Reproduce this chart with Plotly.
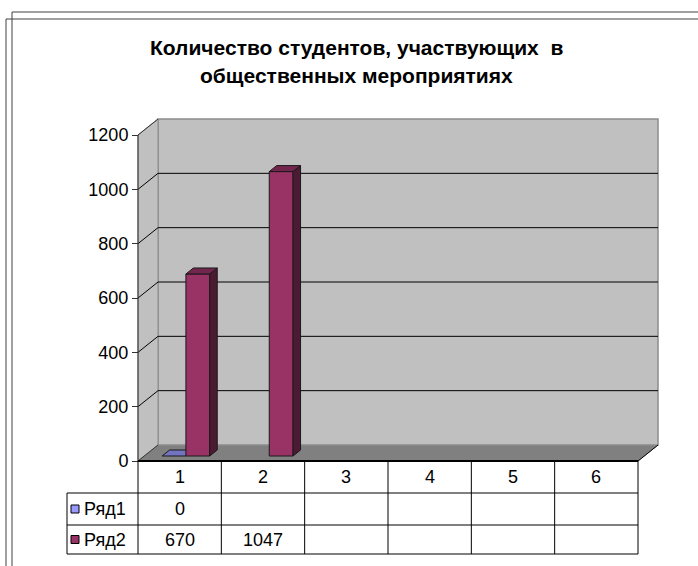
import plotly.graph_objects as go

# ---------------- data ----------------
categories = [1, 2, 3, 4, 5, 6]
series_names = ["Ряд1", "Ряд2"]
row1_values = [0, None, None, None, None, None]
row2_values = [670, 1047, None, None, None, None]
y_ticks = [0, 200, 400, 600, 800, 1000, 1200]
title_lines = ["Количество студентов, участвующих\u00a0 в", "общественных мероприятиях"]

series_values = [row1_values, row2_values]

# ---------------- styling / geometry ----------------
W, H = 698, 566
FONT = "Liberation Sans, Arial, sans-serif"
front_colors = ["#9999FF", "#993366"]
side_colors = ["#4D4D80", "#4D1A33"]
top_colors = ["#7373BF", "#73264D"]

PX_LEFT, PX_RIGHT = 138, 638
PX_ZERO, PX_TOP = 461, 135
DEPTH_X, DEPTH_Y = 20, 16
F1, F2 = 5 / 16, 11 / 16          # bar depth fraction (front / back)
GAP = 1.5                          # gap width relative to bar width

col_w = (PX_RIGHT - PX_LEFT) / len(categories)
ky = (PX_ZERO - PX_TOP) / y_ticks[-1]
x_range = [0.5 - PX_LEFT / col_w, 0.5 + (W - PX_LEFT) / col_w]
y_range = [-(H - PX_ZERO) / ky, PX_ZERO / ky]
ddx = DEPTH_X / col_w
ddy = DEPTH_Y / ky
ymax = y_ticks[-1]
x_lo, x_hi = categories[0] - 0.5, categories[-1] + 0.5
bw = 1 / (len(series_names) + GAP)


def py(px):
    return 1 - px / H


def px_(px):
    return px / W


def path(pts):
    return "M " + " L ".join(f"{x},{y}" for x, y in pts) + " Z"


shapes = []
# floor
shapes.append(dict(type="path", xref="x", yref="y", layer="below",
                   path=path([(x_lo, 0), (x_hi, 0), (x_hi + ddx, ddy), (x_lo + ddx, ddy)]),
                   fillcolor="#808080", line=dict(color="#808080", width=1)))
# back wall
shapes.append(dict(type="rect", xref="x", yref="y", layer="below",
                   x0=x_lo + ddx, x1=x_hi + ddx, y0=ddy, y1=ymax + ddy,
                   fillcolor="#C0C0C0", line=dict(color="#8C8C8C", width=1.5)))
# left wall
shapes.append(dict(type="path", xref="x", yref="y", layer="below",
                   path=path([(x_lo, 0), (x_lo, ymax), (x_lo + ddx, ymax + ddy), (x_lo + ddx, ddy)]),
                   fillcolor="#C0C0C0", line=dict(color="#8C8C8C", width=1)))
# gridlines on walls
for v in y_ticks:
    if 0 < v < ymax:
        shapes.append(dict(type="line", xref="x", yref="y", layer="below",
                           x0=x_lo + ddx, x1=x_hi + ddx, y0=v + ddy, y1=v + ddy,
                           line=dict(color="#000000", width=1)))
    shapes.append(dict(type="line", xref="x", yref="y", layer="below",
                       x0=x_lo, x1=x_lo + ddx, y0=v, y1=v + ddy,
                       line=dict(color="#333333" if v in (0, ymax) else "#000000", width=1)))
# right floor edge
shapes.append(dict(type="line", xref="x", yref="y", layer="below",
                   x0=x_hi, x1=x_hi + ddx, y0=0, y1=ddy, line=dict(color="#000000", width=1)))
# value axis line
shapes.append(dict(type="line", xref="x", yref="y", layer="above",
                   x0=x_lo, x1=x_lo, y0=0, y1=ymax, line=dict(color="#333333", width=1)))

# ---------------- table ----------------
row_px = [PX_ZERO, 493, 525, 554]
LEG_LEFT = 67
# thick top border (floor front edge)
shapes.append(dict(type="line", xref="x", yref="paper", x0=x_lo, x1=x_hi,
                   y0=py(row_px[0]), y1=py(row_px[0]), line=dict(color="#000000", width=2)))
for r in row_px[1:]:
    shapes.append(dict(type="line", xref="paper", yref="paper", x0=px_(LEG_LEFT), x1=px_(PX_RIGHT),
                       y0=py(r), y1=py(r), line=dict(color="#000000", width=1)))
for i, c in enumerate(categories):
    shapes.append(dict(type="line", xref="x", yref="paper", x0=c - 0.5, x1=c - 0.5,
                       y0=py(row_px[0]), y1=py(row_px[-1]), line=dict(color="#000000", width=1)))
shapes.append(dict(type="line", xref="x", yref="paper", x0=x_hi, x1=x_hi,
                   y0=py(row_px[0]), y1=py(row_px[-1]), line=dict(color="#000000", width=1)))
shapes.append(dict(type="line", xref="paper", yref="paper", x0=px_(LEG_LEFT), x1=px_(LEG_LEFT),
                   y0=py(row_px[1]), y1=py(row_px[-1]), line=dict(color="#000000", width=1)))

annotations = []
tfont = dict(family=FONT, size=18, color="#000000")
for c in categories:
    annotations.append(dict(x=c, y=py((row_px[0] + row_px[1]) / 2), xref="x", yref="paper",
                            text=str(c), showarrow=False, font=tfont, xanchor="center", yanchor="middle"))
for s, (name, vals) in enumerate(zip(series_names, series_values)):
    yc = py((row_px[s + 1] + row_px[s + 2]) / 2)
    # legend square
    shapes.append(dict(type="rect", xref="paper", yref="paper",
                       x0=px_(71), x1=px_(79), y0=yc - 4 / H, y1=yc + 4 / H,
                       fillcolor=front_colors[s], line=dict(color="#000000", width=1)))
    annotations.append(dict(x=px_(82), y=yc, xref="paper", yref="paper", text=name,
                            showarrow=False, font=tfont, xanchor="left", yanchor="middle"))
    for c, v in zip(categories, vals):
        if v is not None:
            annotations.append(dict(x=c, y=yc, xref="x", yref="paper", text=str(v),
                                    showarrow=False, font=tfont, xanchor="center", yanchor="middle"))

# title
for k, line in enumerate(title_lines):
    annotations.append(dict(x=px_(356), y=py(47 + 28 * k), xref="paper", yref="paper", text=f"<b>{line}</b>",
                            showarrow=False, font=dict(family=FONT, size=21, color="#000000"),
                            xanchor="center", yanchor="middle"))

# outer frames
for (fx, fy) in [(12, 12), (6, 19)]:
    shapes.append(dict(type="line", xref="paper", yref="paper", x0=px_(fx), x1=1, y0=py(fy), y1=py(fy),
                       line=dict(color="#404040", width=1)))
    shapes.append(dict(type="line", xref="paper", yref="paper", x0=px_(fx), x1=px_(fx), y0=py(fy), y1=0,
                       line=dict(color="#404040", width=1)))

# ---------------- bars (3D faces) ----------------
fig = go.Figure()
for c_idx, c in enumerate(categories):
    for s in range(len(series_names)):
        v = series_values[s][c_idx]
        if v is None:
            continue
        x0 = c - bw * len(series_names) / 2 + s * bw
        x1 = x0 + bw
        fx, fy = F1 * ddx, F1 * ddy
        bx, by = F2 * ddx, F2 * ddy
        faces = []
        if v > 0:
            faces.append(([x0 + fx, x1 + fx, x1 + fx, x0 + fx], [fy, fy, v + fy, v + fy], front_colors[s]))
            faces.append(([x1 + fx, x1 + bx, x1 + bx, x1 + fx], [fy, by, v + by, v + fy], side_colors[s]))
        faces.append(([x0 + fx, x1 + fx, x1 + bx, x0 + bx], [v + fy, v + fy, v + by, v + by], top_colors[s]))
        for xs, ys, col in faces:
            fig.add_trace(go.Scatter(x=xs + [xs[0]], y=ys + [ys[0]], mode="lines", fill="toself",
                                     fillcolor=col, line=dict(color="#1a1a1a", width=1),
                                     hoverinfo="skip", showlegend=False))

fig.update_layout(
    width=W, height=H,
    margin=dict(l=0, r=0, t=0, b=0),
    paper_bgcolor="#FFFFFF", plot_bgcolor="#FFFFFF",
    showlegend=False,
    xaxis=dict(range=x_range, visible=False, domain=[0, 1], fixedrange=True),
    yaxis=dict(range=y_range, domain=[0, 1], tickvals=y_ticks, ticks="outside", ticklen=6,
               tickcolor="#333333", tickwidth=1, showgrid=False, zeroline=False, showline=False,
               anchor="free", position=PX_LEFT / W, tickfont=tfont, fixedrange=True),
    shapes=shapes,
    annotations=annotations,
)

fig.write_html("out.html", config={"displayModeBar": False},
               post_script="document.body.style.margin='0px';document.body.style.overflow='hidden';")
